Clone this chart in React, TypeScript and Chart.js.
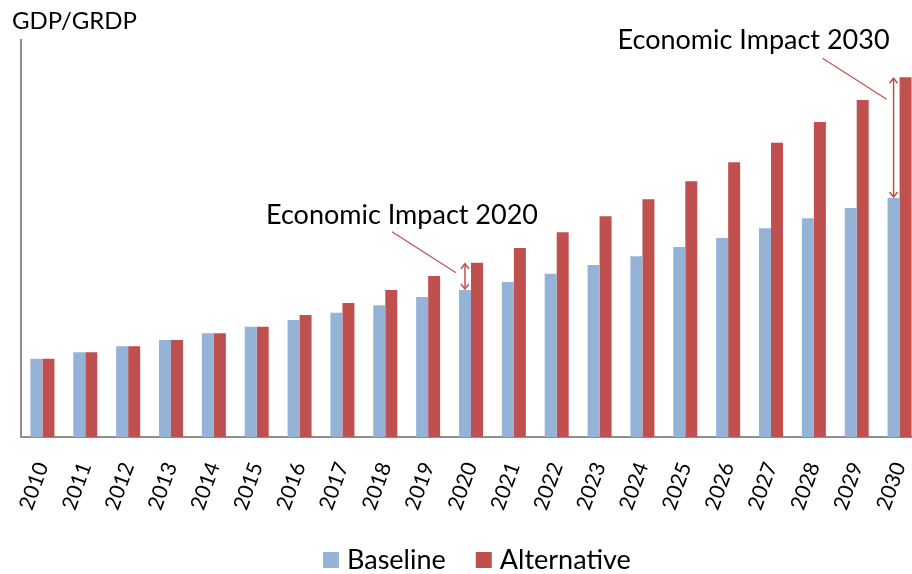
import React, { useEffect, useRef } from "react";
import { Chart, registerables } from "chart.js";

Chart.register(...registerables);

const years = ["2010","2011","2012","2013","2014","2015","2016","2017","2018","2019","2020","2021","2022","2023","2024","2025","2026","2027","2028","2029","2030"];
const baseline = [78.3, 84.7, 90.7, 97, 103.7, 110.3, 117, 124.3, 131.7, 140, 147, 155, 163.3, 172, 180.7, 190, 199, 208.7, 218.7, 229, 239];
const alternative = [78.3, 84.7, 90.7, 97, 103.7, 110.3, 122, 134, 147, 161, 174.3, 189, 204.7, 220.7, 237.7, 255.7, 274.7, 294.3, 315, 337, 359.7];
const seriesNames = ["Baseline", "Alternative"];
const yAxisTitle = "GDP/GRDP";
const impactYears = ["2020", "2030"];
const impactLabels = ["Economic Impact 2020", "Economic Impact 2030"];

const BLUE = "#95B3D7";
const RED = "#C0504D";
const FONT = "Lato, 'Open Sans', sans-serif";

// style offsets for the annotation callouts (relative to arrow x / alternative bar top)
const calloutStyles = [
  { textCx: -63, textCy: -47, lx1: -73, ly1: -31, lx2: -9, ly2: 10 },
  { textCx: -140, textCy: -37, lx1: -71, ly1: -19, lx2: -7, ly2: 22 },
];

const overlayPlugin = {
  id: "overlay",
  afterDatasetsDraw(chart: any) {
    const ctx = chart.ctx;
    const mb = chart.getDatasetMeta(0);
    const ma = chart.getDatasetMeta(1);
    ctx.save();
    // title
    ctx.fillStyle = "#000";
    ctx.font = `24px ${FONT}`;
    ctx.textAlign = "left";
    ctx.textBaseline = "middle";
    ctx.fillText(yAxisTitle, 12, 21);

    impactYears.forEach((yr, k) => {
      const i = chart.data.labels.indexOf(yr);
      if (i < 0) return;
      const st = calloutStyles[k];
      const bx = mb.data[i].x;
      const by = mb.data[i].y;
      const ay = ma.data[i].y;
      ctx.strokeStyle = RED;
      ctx.lineWidth = 1.5;
      // double arrow
      ctx.beginPath();
      ctx.moveTo(bx, ay + 1);
      ctx.lineTo(bx, by - 1);
      ctx.stroke();
      ctx.beginPath();
      ctx.moveTo(bx - 4, ay + 6);
      ctx.lineTo(bx, ay + 1);
      ctx.lineTo(bx + 4, ay + 6);
      ctx.moveTo(bx - 4, by - 6);
      ctx.lineTo(bx, by - 1);
      ctx.lineTo(bx + 4, by - 6);
      ctx.stroke();
      // leader line
      ctx.lineWidth = 1.2;
      ctx.beginPath();
      ctx.moveTo(bx + st.lx1, ay + st.ly1);
      ctx.lineTo(bx + st.lx2, ay + st.ly2);
      ctx.stroke();
      // text
      ctx.fillStyle = "#000";
      ctx.font = `27px ${FONT}`;
      ctx.textAlign = "center";
      ctx.textBaseline = "middle";
      ctx.fillText(impactLabels[k], bx + st.textCx, ay + st.textCy);
    });

    // legend
    ctx.font = `27px ${FONT}`;
    ctx.textAlign = "left";
    ctx.textBaseline = "middle";
    let x = 323;
    const cy = 560;
    chart.data.datasets.forEach((ds: any) => {
      ctx.fillStyle = ds.backgroundColor;
      ctx.fillRect(x, cy - 8, 16, 16);
      ctx.fillStyle = "#000";
      ctx.fillText(ds.label, x + 24, cy);
      x += 24 + ctx.measureText(ds.label).width + 30;
    });
    ctx.restore();
  },
};

export default function App() {
  const ref = useRef<HTMLCanvasElement>(null);
  useEffect(() => {
    if (!ref.current) return;
    const chart = new Chart(ref.current, {
      type: "bar",
      data: {
        labels: years,
        datasets: [
          { label: seriesNames[0], data: baseline, backgroundColor: BLUE, borderWidth: 0 },
          { label: seriesNames[1], data: alternative, backgroundColor: RED, borderWidth: 0 },
        ],
      },
      options: {
        animation: false,
        responsive: false,
        maintainAspectRatio: false,
        layout: { padding: { left: 21, top: 40, right: 9, bottom: 0 } },
        plugins: { legend: { display: false }, tooltip: { enabled: false }, title: { display: false } },
        datasets: { bar: { categoryPercentage: 0.56, barPercentage: 1 } },
        scales: {
          x: {
            grid: { display: false, drawTicks: false },
            border: { display: true, color: "#8e8e8e", width: 2 },
            ticks: {
              minRotation: 70,
              maxRotation: 70,
              padding: 22,
              autoSkip: false,
              color: "#000",
              font: { family: FONT, size: 21 },
            },
            afterFit: (s: any) => { s.height = 137; s.paddingLeft = 0; s.paddingRight = 0; },
          },
          y: {
            min: 0,
            max: 397,
            grid: { display: false, drawTicks: false },
            border: { display: true, color: "#8e8e8e", width: 2 },
            ticks: { display: false },
            afterFit: (s: any) => { s.width = 0; s.paddingTop = 0; s.paddingBottom = 0; },
          },
        },
      },
      plugins: [overlayPlugin],
    });
    return () => chart.destroy();
  }, []);
  return (
    <div style={{ position: "fixed", left: 0, top: 0, width: 912, height: 574, overflow: "hidden", background: "#fff" }}>
      <canvas ref={ref} width={930} height={574} style={{ display: "block", width: 930, height: 574 }} />
    </div>
  );
}
